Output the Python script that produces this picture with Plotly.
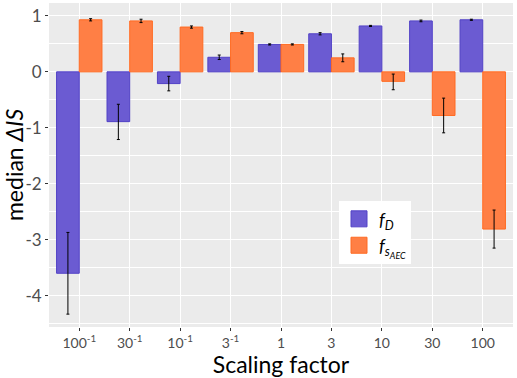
import plotly.graph_objects as go

categories = ["1/100", "1/30", "1/10", "1/3", "1", "3", "10", "30", "100"]
tick_labels = ["100<sup>-1</sup>", "30<sup>-1</sup>", "10<sup>-1</sup>", "3<sup>-1</sup>",
               "1", "3", "10", "30", "100"]

fD = [-3.60, -0.89, -0.21, 0.26, 0.49, 0.68, 0.82, 0.91, 0.93]
fD_up = [0.73, 0.31, 0.13, 0.04, 0.01, 0.02, 0.01, 0.015, 0.01]
fD_dn = [0.73, 0.32, 0.13, 0.04, 0.01, 0.02, 0.01, 0.015, 0.01]

fS = [0.93, 0.91, 0.80, 0.70, 0.49, 0.25, -0.17, -0.78, -2.81]
fS_up = [0.02, 0.03, 0.02, 0.02, 0.01, 0.07, 0.13, 0.31, 0.34]
fS_dn = [0.02, 0.03, 0.02, 0.02, 0.01, 0.07, 0.15, 0.31, 0.34]

purple_fill, purple_line = "#6B5BD2", "#5242C6"
orange_fill, orange_line = "#FF7F45", "#FF6A22"
font = "Lato"

fig = go.Figure()
for name, vals, up, dn, fc, lc in [
    ("<i>f<sub>D</sub></i>", fD, fD_up, fD_dn, purple_fill, purple_line),
    ("<i>f<sub>s<sub>AEC</sub></sub></i>", fS, fS_up, fS_dn, orange_fill, orange_line),
]:
    fig.add_trace(go.Bar(
        x=categories, y=vals, name=name, showlegend=False,
        marker=dict(color=fc, line=dict(color=lc, width=1)),
        error_y=dict(type="data", symmetric=False, array=up, arrayminus=dn,
                     color="black", thickness=1, width=1.5),
    ))
    fig.add_trace(go.Scatter(
        x=[None], y=[None], mode="markers", name=name, showlegend=True,
        marker=dict(symbol="square", size=22, color=fc, line=dict(color=lc, width=1)),
    ))

fig.update_layout(
    width=517, height=378,
    margin=dict(l=49, r=4, t=3, b=51),
    paper_bgcolor="white", plot_bgcolor="#EBEBEB",
    barmode="group", bargap=0.1, bargroupgap=0,
    font=dict(family=font, color="#4D4D4D"),
    legend=dict(x=0.625, y=0.39, xanchor="left", yanchor="top",
                bgcolor="white", font=dict(size=18, color="black"),
                itemsizing="trace", tracegroupgap=0),
)
fig.update_xaxes(
    type="category", categoryorder="array", categoryarray=categories,
    range=[-0.6, 8.6], tickvals=categories, ticktext=tick_labels,
    showgrid=True, gridcolor="white", gridwidth=1.1,
    ticks="outside", ticklen=3, tickcolor="#333333", tickfont=dict(size=14, color="#4D4D4D"),
    title=dict(text="Scaling factor", font=dict(size=23, color="black"), standoff=4),
    zeroline=False, showline=False,
)
fig.update_yaxes(
    range=[-4.56, 1.23], tickvals=[-4, -3, -2, -1, 0, 1],
    ticktext=["-4", "-3", "-2", "-1", "0", "1"],
    showgrid=True, gridcolor="white", gridwidth=1.1,
    minor=dict(dtick=0.5, showgrid=True, gridcolor="white", gridwidth=0.5),
    ticks="outside", ticklen=3, tickcolor="#333333", tickfont=dict(size=17, color="#4D4D4D"),
    title=dict(text="median <i>ΔIS</i>", font=dict(size=23, color="black"), standoff=4),
    zeroline=False, showline=False,
)
fig.write_html("out.html", config={"displayModeBar": False},
               post_script="document.body.style.margin='0';document.body.style.overflow='hidden';")
